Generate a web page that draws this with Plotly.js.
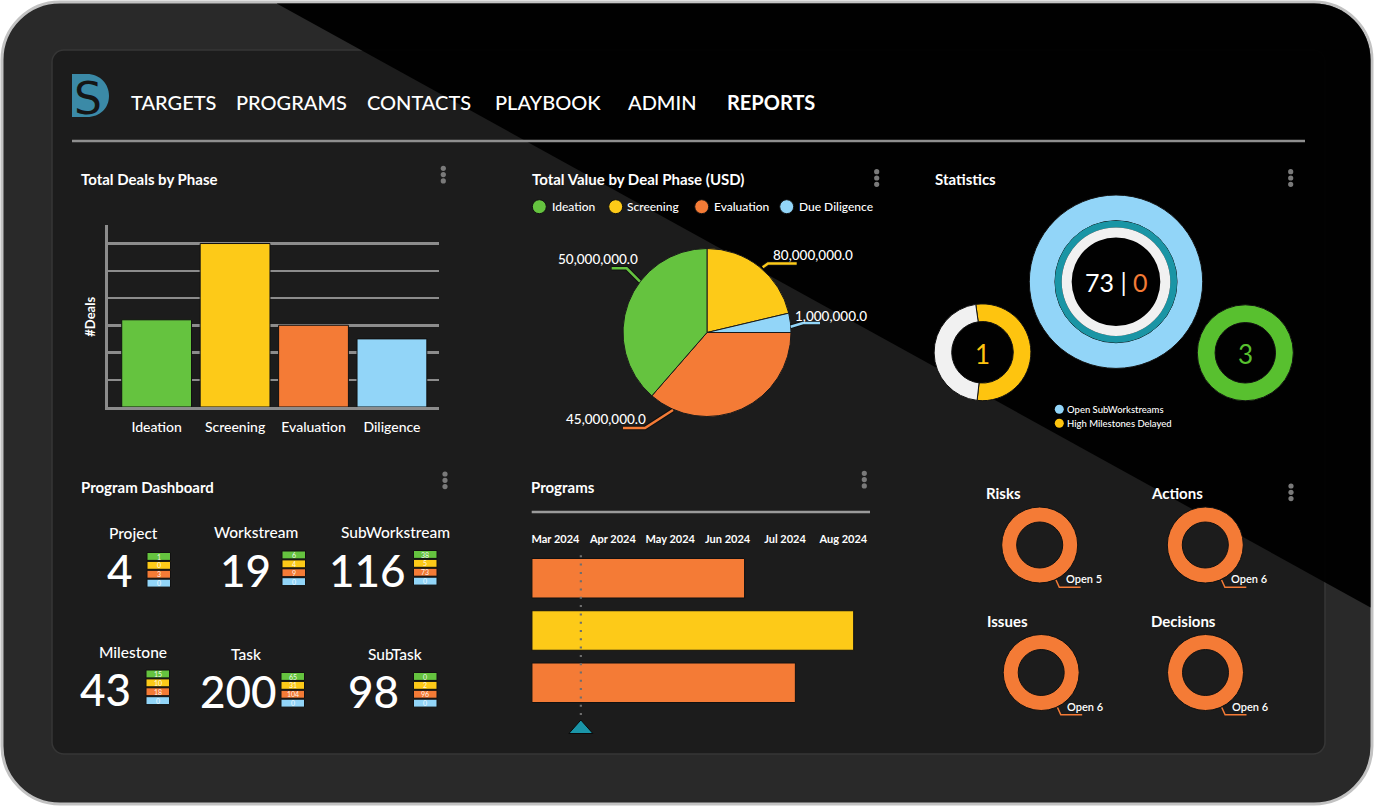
<!DOCTYPE html>
<html><head><meta charset="utf-8">
<script src="https://cdn.plot.ly/plotly-3.0.1.min.js"></script>
<style>html,body{margin:0;padding:0;background:#fff;overflow:hidden}#chart{width:1374px;height:806px}</style>
</head><body><div id="chart"></div>
<script>
// ---------------- DATA ----------------
const navItems = ["TARGETS","PROGRAMS","CONTACTS","PLAYBOOK","ADMIN","REPORTS"];
const phases = ["Ideation","Screening","Evaluation","Diligence"];
const dealCounts = [3.2, 6, 3, 2.5];
const valueLegend = ["Ideation","Screening","Evaluation","Due Diligence"];
const valueLabels = ["50,000,000.0","80,000,000.0","45,000,000.0","1,000,000.0"];
const valueShares = [38.6, 21.3, 36.4, 3.7];          // slice sizes
const pieOrder = [1, 3, 2, 0];                        // clockwise from 12 o'clock
const openSubWorkstreams = 73;
const openSubDelayed = 0;
const highMilestonesDelayed = 1;
const delayedRingShares = [54, 46];
const statThird = 3;
const dashItems = ["Project","Workstream","SubWorkstream","Milestone","Task","SubTask"];
const dashTotals = [4, 19, 116, 43, 200, 98];
const dashBreakdown = [[1,0,3,0],[6,4,9,0],[38,5,73,0],[15,10,18,0],[65,31,104,0],[0,2,96,0]];
const programStarts = ["2024-03-04","2024-03-04","2024-03-04"];
const programEnds = ["2024-06-25","2024-08-22","2024-07-22"];
const programColorIdx = [2, 1, 2];
const todayDate = "2024-03-30";
const raidItems = ["Risks","Actions","Issues","Decisions"];
const raidOpen = [5, 6, 6, 6];

// ---------------- STYLE / LAYOUT HELPERS ----------------
const C = {green:"#65c33f", yellow:"#fdca18", orange:"#f47b36", blue:"#92d5f8"};
const phaseColors = [C.green, C.yellow, C.orange, C.blue];
const FONT = 'Lato, "Open Sans", "DejaVu Sans", sans-serif';
const W = 1374, H = 806;
const X = p => p / W, Y = p => 1 - p / H;
function P(d){ let i = 0; return d.replace(/-?\d+(\.\d+)?/g, m => { const v = parseFloat(m); return ((i++ % 2 === 0) ? X(v) : Y(v)).toFixed(6); }); }
function rr(x0,y0,x1,y1,r){ const k = 0.5523*r; return `M${x0+r},${y0} L${x1-r},${y0} C${x1-r+k},${y0} ${x1},${y0+r-k} ${x1},${y0+r} L${x1},${y1-r} C${x1},${y1-r+k} ${x1-r+k},${y1} ${x1-r},${y1} L${x0+r},${y1} C${x0+r-k},${y1} ${x0},${y1-r+k} ${x0},${y1-r} L${x0},${y0+r} C${x0},${y0+r-k} ${x0+r-k},${y0} ${x0+r},${y0} Z`; }
const shapes = [], ann = [], traces = [];
function pathShape(d, fill, line, layer){ shapes.push({type:'path', xref:'paper', yref:'paper', layer: layer||'above', path:P(d), fillcolor: fill||'rgba(0,0,0,0)', line: line||{width:0}}); }
function circ(cx,cy,r,fill,line,layer){ shapes.push({type:'circle', xref:'paper', yref:'paper', layer: layer||'above', x0:X(cx-r), x1:X(cx+r), y0:Y(cy+r), y1:Y(cy-r), fillcolor:fill, line: line||{width:0}}); }
function lineShape(x0,y0,x1,y1,color,width,layer){ shapes.push({type:'line', xref:'paper', yref:'paper', layer: layer||'above', x0:X(x0), x1:X(x1), y0:Y(y0), y1:Y(y1), line:{color, width}}); }
function txt(x,y,text,size,color,opts){
  const o = Object.assign({xref:'paper', yref:'paper', text, showarrow:false, xanchor:'left', yanchor:'middle', font:{family:FONT, size, color}}, opts||{});
  const dx = o.xanchor === 'left' ? -2.5 : 0;
  o.x = X(x + dx); o.y = Y(y);
  ann.push(o);
}
function donut(cx,cy,r,values,colors,hole,extra){ traces.push(Object.assign({type:'pie', values, marker:{colors, line:{color:'#111', width:1}}, hole, sort:false, direction:'clockwise', rotation:0, textinfo:'none', hoverinfo:'skip', showlegend:false, domain:{x:[X(cx-r), X(cx+r)], y:[Y(cy+r), Y(cy-r)]}}, extra||{})); }

// ---------------- FRAME ----------------
pathShape(rr(2,2,1372,804,58), '#292929', {color:'#c2c2c2', width:3}, 'below');
pathShape(rr(52,50,1325,754,12), '#1c1c1c', {color:'#363636', width:1.5}, 'below');
const diagX = y => 379 + (y - 60) * 1.811;
shapes.push({type:'path', xref:'paper', yref:'paper', layer:'below', opacity:0.96,
  path:P(`M${diagX(3.5)},3.5 L1314,3.5 C1345.2,3.5 1370.5,28.8 1370.5,60 L1370.5,${60 + (1370.5 - 379) / 1.811} Z`),
  fillcolor:'#000', line:{width:0}});

// logo
pathShape("M72,74 L87,74 C100,74 109,84 109,96 C109,108 100,117 87,117 L72,117 Z", '#3b8aa7', {width:0}, 'below');
txt(88, 98, "S", 44, '#151515', {xanchor:'center', font:{family:'"DejaVu Sans", sans-serif', size:44, color:'#151515'}});

// nav
const navX = [131, 236, 367, 495, 628, 728];
navItems.forEach((t,i) => txt(navX[i], 102, t, 20, '#ffffff', {font:{family:FONT, size:20, color:'#fff', weight: i === navItems.length-1 ? 'bold' : 500}}));
lineShape(72, 141, 1305, 141, '#8f8f8f', 2.5, 'below');

// kebab menus
[[443.3,168.3],[876.7,171.7],[1290.7,171.7],[445,474],[864.3,473.3],[1291,486]].forEach(([x,y]) => {
  for (let k = 0; k < 3; k++) circ(x, y + k*6.3, 2.6, '#7a7a7a');
});

// card titles
const titleFont = s => ({family:FONT, size:s, color:'#fff', weight:'bold'});
[["Total Deals by Phase",81.5,179.3],["Total Value by Deal Phase (USD)",532,179],["Statistics",935,179.3],
 ["Program Dashboard",81.5,486.7],["Programs",531.5,486.7],["Risks",986.5,493.3],["Actions",1151.5,493.3],
 ["Issues",987.5,621],["Decisions",1151.5,621]].forEach(([t,x,y]) => txt(x, y, t, 15, '#fff', {font:titleFont(15)}));

// ---------------- BAR CHART ----------------
traces.push({type:'bar', x:phases, y:dealCounts, width:0.89, xaxis:'x', yaxis:'y', hoverinfo:'skip',
  marker:{color:phaseColors, line:{color:'#111', width:1}}});
txt(90, 316.7, "#Deals", 13, '#fff', {xanchor:'center', textangle:-90, font:titleFont(13)});

// ---------------- PIE ----------------
traces.push({type:'pie', labels:pieOrder.map(i => valueLegend[i]), values:pieOrder.map(i => valueShares[i]),
  marker:{colors:pieOrder.map(i => phaseColors[i]), line:{color:'#1a1a1a', width:1}},
  sort:false, direction:'clockwise', rotation:0, textinfo:'none', hoverinfo:'skip', showlegend:false,
  domain:{x:[X(707-84), X(707+84)], y:[Y(332.5+84), Y(332.5-84)]}});
const legX = [[539.3,552.3],[615.7,627.3],[701.7,714.3],[786.7,800]];
valueLegend.forEach((t,i) => { circ(legX[i][0], 206.7, 7, phaseColors[i], {color:'#111', width:1}); txt(legX[i][1], 207, t, 12, '#fff', {font:{family:FONT, size:12, color:'#fff', weight:500}}); });
const callouts = [
  {pts:"M640,281.7 L626.7,268.3 L611.7,268.3", tx:598, ty:259},
  {pts:"M762.7,267.3 L768,263.5 L796.7,263.5", tx:813, ty:255},
  {pts:"M673,410 L645,428 L623,428", tx:606, ty:419},
  {pts:"M790.7,326.7 L803,323 L820,323", tx:831, ty:315.7}];
callouts.forEach((c,i) => {
  pathShape(c.pts, null, {color:'#111', width:4.5});
  pathShape(c.pts, null, {color:phaseColors[i], width:2.5});
  txt(c.tx, c.ty, valueLabels[i], 13.5, '#fff', {xanchor:'center', font:{family:FONT, size:13.5, color:'#fff', weight:500}});
});

// ---------------- STATISTICS ----------------
donut(1116, 281.7, 86.7, [openSubWorkstreams], [C.blue], 0.704);
donut(1116, 281.7, 61, [openSubWorkstreams], ['#1a95a5'], 0.89, {marker:{colors:['#1a95a5'], line:{width:0}}});
donut(1116, 281.7, 54.3, [openSubWorkstreams], ['#f1f1f1'], 0.816, {marker:{colors:['#f1f1f1'], line:{width:0}}});
txt(1116, 282, `${openSubWorkstreams} | <span style="color:${C.orange}">${openSubDelayed}</span>`, 25, '#fff', {xanchor:'center'});
donut(982.5, 352.3, 48.4, delayedRingShares, ['#fec40f', '#f1f1f1'], 0.636, {rotation:-8});
txt(982.5, 353.5, String(highMilestonesDelayed), 26, '#fec40f', {xanchor:'center'});
donut(1245.3, 352.8, 48, [statThird], ['#58c02f'], 0.63);
txt(1245.5, 354, String(statThird), 26, '#58c02f', {xanchor:'center'});
circ(1059.3, 409.3, 4.5, C.blue); txt(1067, 409.5, "Open SubWorkstreams", 9.5, '#fff', {font:{family:FONT, size:9.5, color:'#fff', weight:500}});
circ(1059.3, 423.3, 4.5, '#fec40f'); txt(1067, 423.5, "High Milestones Delayed", 9.5, '#fff', {font:{family:FONT, size:9.5, color:'#fff', weight:500}});

// ---------------- PROGRAM DASHBOARD ----------------
const dashPos = [ // label cx, label y, number cx, number y, cell left, cell top
  [133,533,120,570,147,552.5],[256,531.5,245,570,282,551],[395,531.5,367.5,570,413.5,550.5],
  [133,651.5,105.5,688.5,146,670],[246,654,238,691,281,672.5],[395,654,373,691,413.5,672.5]];
dashItems.forEach((t,i) => {
  const p = dashPos[i];
  txt(p[0], p[1], t, 15.5, '#fff', {xanchor:'center', font:{family:FONT, size:15.5, color:'#fff', weight:500}});
  txt(p[2], p[3], String(dashTotals[i]), 44, '#fff', {xanchor:'center', font:{family:FONT, size:44, color:'#fff', weight:500}});
  dashBreakdown[i].forEach((v,k) => {
    const y0 = p[5] + k*8.9;
    shapes.push({type:'rect', xref:'paper', yref:'paper', x0:X(p[4]), x1:X(p[4]+23.5), y0:Y(y0+7.9), y1:Y(y0), fillcolor:phaseColors[k], line:{color:'#111', width:1}});
    txt(p[4]+11.75, y0+4, String(v), 7, 'rgba(255,255,255,0.9)', {xanchor:'center'});
  });
});

// ---------------- PROGRAMS GANTT ----------------
lineShape(531.7, 512, 870, 512, '#9a9a9a', 2.5);
traces.push({type:'bar', orientation:'h', y:[0,1,2], base:programStarts,
  x:programStarts.map((s,i) => new Date(programEnds[i]) - new Date(s)),
  width:0.756, xaxis:'x2', yaxis:'y2', hoverinfo:'skip',
  marker:{color:programColorIdx.map(i => phaseColors[i]), line:{color:'#111', width:1}}});
shapes.push({type:'line', xref:'x2', yref:'paper', x0:todayDate, x1:todayDate, y0:Y(715), y1:Y(550), line:{color:'#6e6e6e', width:2.2, dash:'2px,6.3px'}});
shapes.push({type:'path', xref:'x2', yref:'paper', xsizemode:'pixel', xanchor:todayDate, ysizemode:'pixel', yanchor:Y(733.5),
  path:'M-12,0 L12,0 L0,13.5 Z', fillcolor:'#1a95a8', line:{color:'#0a0a0a', width:1}});

// ---------------- RAID DONUTS ----------------
const raidPos = [[1039.7,545],[1205.3,545],[1041.2,672.5],[1205.5,672.5]];
raidItems.forEach((t,i) => {
  const [cx,cy] = raidPos[i];
  donut(cx, cy, 38, [raidOpen[i]], [C.orange], 0.605);
  pathShape(`M${cx+16.3},${cy+35} L${cx+19.6},${cy+42.3} L${cx+41},${cy+42.3}`, null, {color:C.orange, width:1.5});
  txt(cx+26.5, cy+33.5, "Open " + raidOpen[i], 11, '#fff', {font:{family:FONT, size:11, color:'#fff', weight:600}});
});

// ---------------- LAYOUT ----------------
const layout = {
  width:W, height:H, margin:{l:0,r:0,t:0,b:0}, paper_bgcolor:'#ffffff', plot_bgcolor:'rgba(0,0,0,0)',
  showlegend:false, font:{family:FONT, color:'#fff'}, shapes, annotations:ann,
  xaxis:{domain:[X(108), X(439)], anchor:'y', range:[-0.62, 3.6], type:'category', fixedrange:true,
    showline:true, linecolor:'#8c8c8c', linewidth:3, showgrid:false, zeroline:false,
    ticks:'outside', ticklen:5, tickcolor:'rgba(0,0,0,0)', tickfont:{family:FONT, size:14, color:'#fff', weight:500}},
  yaxis:{domain:[Y(407), Y(225)], anchor:'x', range:[0, 6.68], dtick:1, tick0:0, fixedrange:true,
    showgrid:true, gridcolor:'#8c8c8c', gridwidth:2.5, showticklabels:false, ticks:'',
    showline:true, linecolor:'#8c8c8c', linewidth:3, zeroline:false},
  xaxis2:{domain:[X(526.3), X(872.5)], anchor:'free', position:Y(545), type:'date', side:'top', range:['2024-03-01','2024-09-01'],
    ticklabelmode:'period', dtick:'M1', tick0:'2024-03-01', tickformat:'%b %Y', showgrid:false, zeroline:false,
    showline:false, ticks:'', tickfont:{family:FONT, size:11, color:'#fff', weight:'bold'}, fixedrange:true},
  yaxis2:{domain:[Y(708.9), Y(552.1)], anchor:'x2', range:[2.5, -0.5], showgrid:false, zeroline:false,
    showticklabels:false, ticks:'', showline:false, fixedrange:true}
};
Plotly.newPlot('chart', traces, layout, {displayModeBar:false, staticPlot:true});
</script></body></html>
